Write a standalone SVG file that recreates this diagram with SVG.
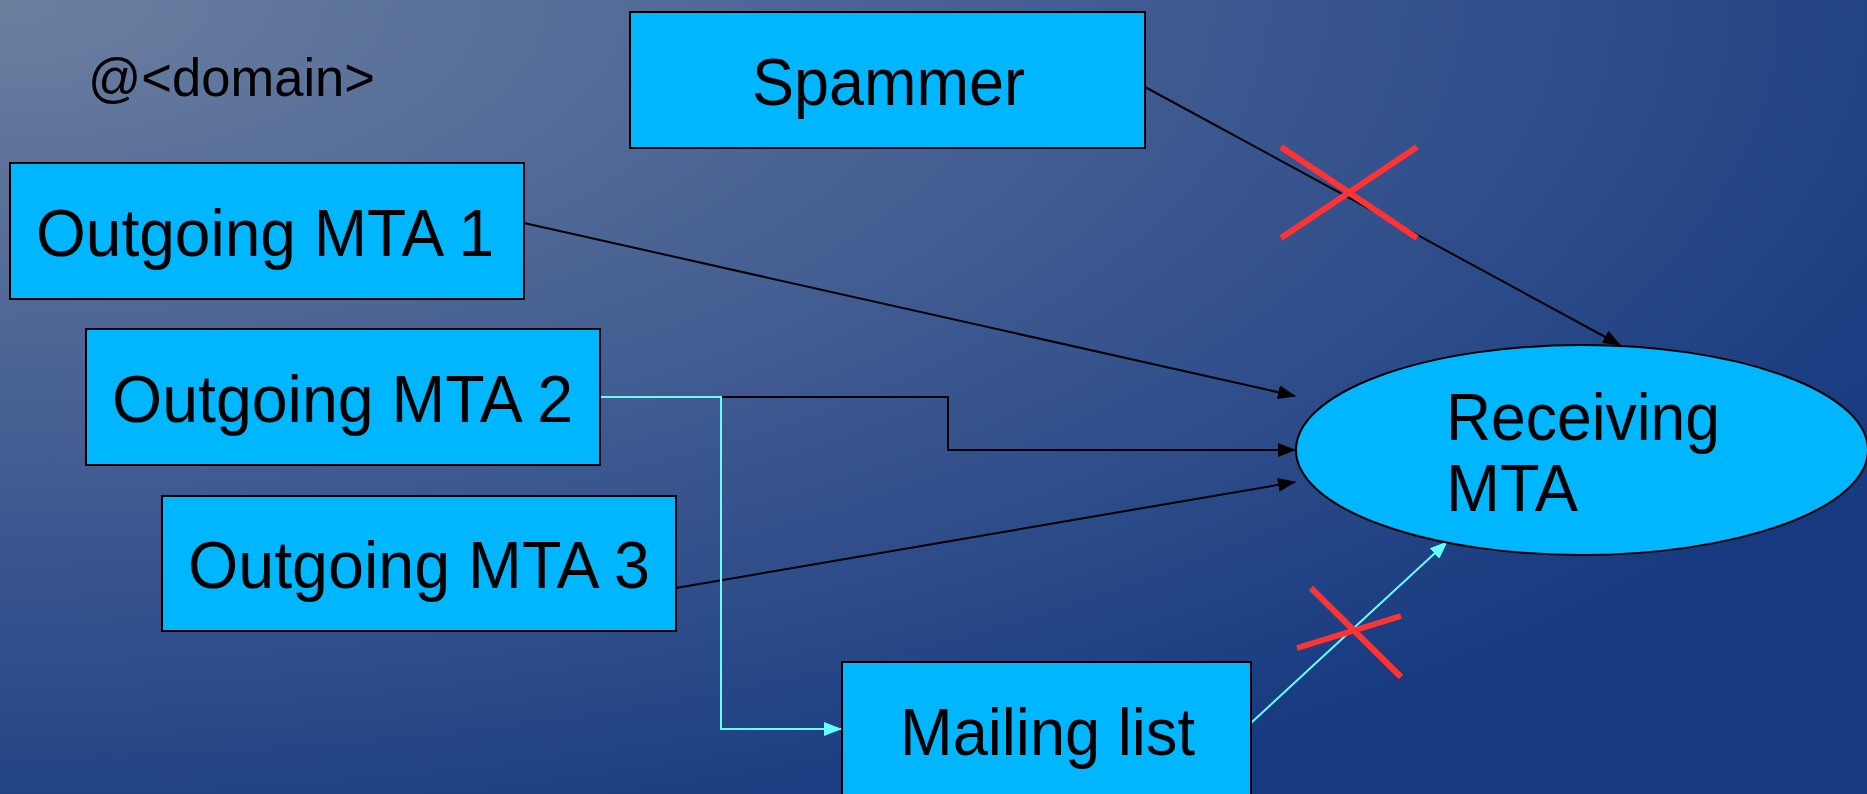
<svg xmlns="http://www.w3.org/2000/svg" width="1867" height="794" viewBox="0 0 1867 794">
<style>
.box{fill:#00b7ff;stroke:#000;stroke-width:2}
.lbl{font-family:"Liberation Sans",Arial,sans-serif;font-size:66px;fill:#000}
.blk{fill:none;stroke:#000;stroke-width:2}
.cyn{fill:none;stroke:#66ffff;stroke-width:2}
.red{stroke:#ff3333;stroke-width:6;fill:none}
</style>
<defs>
<radialGradient id="bg" cx="0" cy="0" r="1.15" gradientUnits="objectBoundingBox">
<stop offset="0" stop-color="#6b7f9f"/>
<stop offset="0.5" stop-color="#425d92"/>
<stop offset="1" stop-color="#173a80"/>
</radialGradient>
<marker id="ab" markerWidth="18" markerHeight="14" refX="17" refY="7" orient="auto" markerUnits="userSpaceOnUse">
<path d="M0,0 L18,7 L0,14 Z" fill="#000"/>
</marker>
<marker id="ac" markerWidth="18" markerHeight="14" refX="17" refY="7" orient="auto" markerUnits="userSpaceOnUse">
<path d="M0,0 L18,7 L0,14 Z" fill="#66ffff"/>
</marker>
</defs>
<rect x="0" y="0" width="1867" height="794" fill="url(#bg)"/>
<text x="88" y="96" font-family="Liberation Sans, Arial, sans-serif" font-size="54" fill="#000" textLength="287" lengthAdjust="spacingAndGlyphs">@&lt;domain&gt;</text>
<g id="connectors">
<path class="blk" d="M1145,87 L1620,345" marker-end="url(#ab)"/>
<path class="blk" d="M524,223 L1295,396" marker-end="url(#ab)"/>
<path class="blk" d="M600,397 H948 V450 H1295" marker-end="url(#ab)"/>
<path class="blk" d="M676,588 L1295,482" marker-end="url(#ab)"/>
<path class="cyn" d="M600,397 H721 V729 H841" marker-end="url(#ac)"/>
<path class="cyn" d="M1251,723 L1447,542" marker-end="url(#ac)"/>
</g>
<g id="spammer">
<rect class="box" x="630" y="12" width="515" height="136"/>
<text class="lbl" x="752" y="105" textLength="273" lengthAdjust="spacingAndGlyphs">Spammer</text>
</g>
<g id="mta1">
<rect class="box" x="10" y="163" width="514" height="136"/>
<text class="lbl" x="36" y="256" textLength="458" lengthAdjust="spacingAndGlyphs">Outgoing MTA 1</text>
</g>
<g id="mta2">
<rect class="box" x="86" y="329" width="514" height="136"/>
<text class="lbl" x="112" y="422" textLength="461" lengthAdjust="spacingAndGlyphs">Outgoing MTA 2</text>
</g>
<g id="mta3">
<rect class="box" x="162" y="496" width="514" height="135"/>
<text class="lbl" x="188" y="588" textLength="462" lengthAdjust="spacingAndGlyphs">Outgoing MTA 3</text>
</g>
<g id="mailing">
<rect class="box" x="842" y="662" width="409" height="150"/>
<text class="lbl" x="900" y="755" textLength="295" lengthAdjust="spacingAndGlyphs">Mailing list</text>
</g>
<g id="receiving">
<ellipse class="box" cx="1582" cy="450" rx="286" ry="105"/>
<text class="lbl" x="1446" y="440" textLength="274" lengthAdjust="spacingAndGlyphs">Receiving</text>
<text class="lbl" x="1446" y="511" textLength="132" lengthAdjust="spacingAndGlyphs">MTA</text>
</g>
<g id="crosses">
<path class="red" d="M1281,147 L1417,238 M1281,238 L1417,147"/>
<path class="red" d="M1311,588 L1401,677 M1297,648 L1401,616"/>
</g>
</svg>
